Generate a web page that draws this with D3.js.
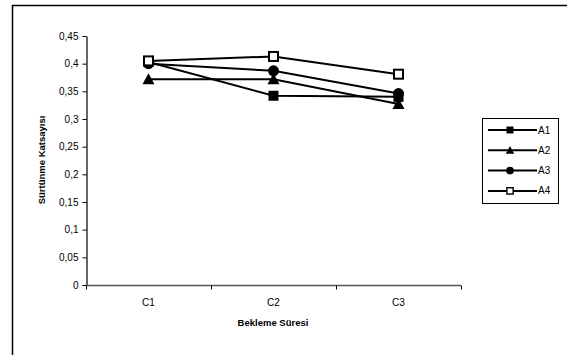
<!DOCTYPE html>
<html>
<head>
<meta charset="utf-8">
<script src="https://cdn.jsdelivr.net/npm/d3@7"></script>
<style>
  body { margin: 0; background: #fff; }
  svg { display: block; font-family: "Liberation Sans", Arial, sans-serif; }
</style>
</head>
<body>
<svg id="chart" width="567" height="355"></svg>
<script>
"use strict";

// data
const categories = ['C1', 'C2', 'C3'];
const seriesNames = ['A1', 'A2', 'A3', 'A4'];
const a1 = [0.403, 0.342, 0.340];
const a2 = [0.372, 0.372, 0.327];
const a3 = [0.400, 0.387, 0.346];
const a4 = [0.405, 0.413, 0.381];
const yTicks = [0, 0.05, 0.1, 0.15, 0.2, 0.25, 0.3, 0.35, 0.4, 0.45];

const series = [
  { name: seriesNames[0], values: a1, marker: 'square' },
  { name: seriesNames[1], values: a2, marker: 'triangle' },
  { name: seriesNames[2], values: a3, marker: 'circle' },
  { name: seriesNames[3], values: a4, marker: 'openSquare' }
];

const svg = d3.select('#chart');

// outer frame (cut off at right and bottom, like the source)
svg.append('path')
  .attr('d', 'M12.5,360V5.5H570')
  .attr('fill', 'none')
  .attr('stroke', '#000')
  .attr('stroke-width', 1.5);

const x = d3.scaleBand().domain(categories).range([86, 461]);
const y = d3.scaleLinear().domain([0, 0.45]).range([285, 36]);

const fmt = (d) => String(d).replace('.', ',');

// y axis
const yAxis = svg.append('g')
  .attr('transform', 'translate(86.5,0)')
  .call(d3.axisLeft(y).tickValues(yTicks).tickFormat(fmt).tickSize(4).tickSizeOuter(0));
yAxis.select('.domain').attr('stroke-width', 1.2);
yAxis.selectAll('text').attr('font-size', 10).attr('fill', '#000').attr('font-family', '"Liberation Sans", Arial, sans-serif').attr('dx', -1);

// x axis
const xAxis = svg.append('g')
  .attr('transform', 'translate(0,285.5)');
xAxis.append('line')
  .attr('x1', 86).attr('x2', 461)
  .attr('stroke', '#555').attr('stroke-width', 1.5);
xAxis.selectAll('line.tick')
  .data(categories.concat(['end']))
  .join('line')
  .attr('class', 'tick')
  .attr('x1', (d, i) => i < categories.length ? x(d) + 0.5 : x.range()[1] + 0.5)
  .attr('x2', (d, i) => i < categories.length ? x(d) + 0.5 : x.range()[1] + 0.5)
  .attr('y1', 0).attr('y2', 4)
  .attr('stroke', '#000');
xAxis.selectAll('text')
  .data(categories)
  .join('text')
  .attr('x', (d) => x(d) + x.bandwidth() / 2)
  .attr('y', 20)
  .attr('text-anchor', 'middle')
  .attr('font-size', 10)
  .text((d) => d);

// axis titles
svg.append('text')
  .attr('x', 273).attr('y', 326)
  .attr('text-anchor', 'middle')
  .attr('font-size', 9.5)
  .attr('font-weight', 'bold')
  .text('Bekleme Süresi');

svg.append('text')
  .attr('transform', 'translate(45,160) rotate(-90)')
  .attr('text-anchor', 'middle')
  .attr('font-size', 9.5)
  .attr('font-weight', 'bold')
  .text('Sürtünme Katsayısı');

function drawMarker(g, type, cx, cy, k) {
  k = k || 1;
  if (type === 'square') {
    g.append('rect').attr('x', cx - 5 * k).attr('y', cy - 5 * k).attr('width', 10 * k).attr('height', 10 * k).attr('fill', '#000');
  } else if (type === 'openSquare') {
    g.append('rect').attr('x', cx - 4.5 * k).attr('y', cy - 4.5 * k).attr('width', 9 * k).attr('height', 9 * k)
      .attr('fill', '#fff').attr('stroke', '#000').attr('stroke-width', 2 * k);
  } else if (type === 'circle') {
    g.append('circle').attr('cx', cx).attr('cy', cy).attr('r', 5.5 * k).attr('fill', '#000');
  } else if (type === 'triangle') {
    g.append('path').attr('d', `M${cx},${cy - 6 * k}L${cx + 6 * k},${cy + 5 * k}L${cx - 6 * k},${cy + 5 * k}Z`).attr('fill', '#000');
  }
}

const cx = (d) => x(d) + x.bandwidth() / 2;
const line = d3.line().x((d) => cx(d.cat)).y((d) => y(d.v));

const plot = svg.append('g');
series.forEach((s) => {
  const pts = s.values.map((v, i) => ({ cat: categories[i], v: v }));
  plot.append('path')
    .attr('d', line(pts))
    .attr('fill', 'none')
    .attr('stroke', '#000')
    .attr('stroke-width', 2);
});
series.forEach((s) => {
  const g = plot.append('g');
  s.values.forEach((v, i) => drawMarker(g, s.marker, cx(categories[i]), y(v)));
});

// legend
const legend = svg.append('g');
legend.append('rect')
  .attr('x', 482.5).attr('y', 118.5).attr('width', 76).attr('height', 85)
  .attr('fill', '#fff').attr('stroke', '#000').attr('stroke-width', 1);
series.forEach((s, i) => {
  const ly = 130 + i * 20.3;
  const g = legend.append('g');
  g.append('line').attr('x1', 488).attr('x2', 537).attr('y1', ly).attr('y2', ly)
    .attr('stroke', '#000').attr('stroke-width', 2);
  drawMarker(g, s.marker, 510, ly, 0.7);
  g.append('text').attr('x', 538).attr('y', ly + 3.5).attr('font-size', 10).text(s.name);
});
</script>
</body>
</html>
